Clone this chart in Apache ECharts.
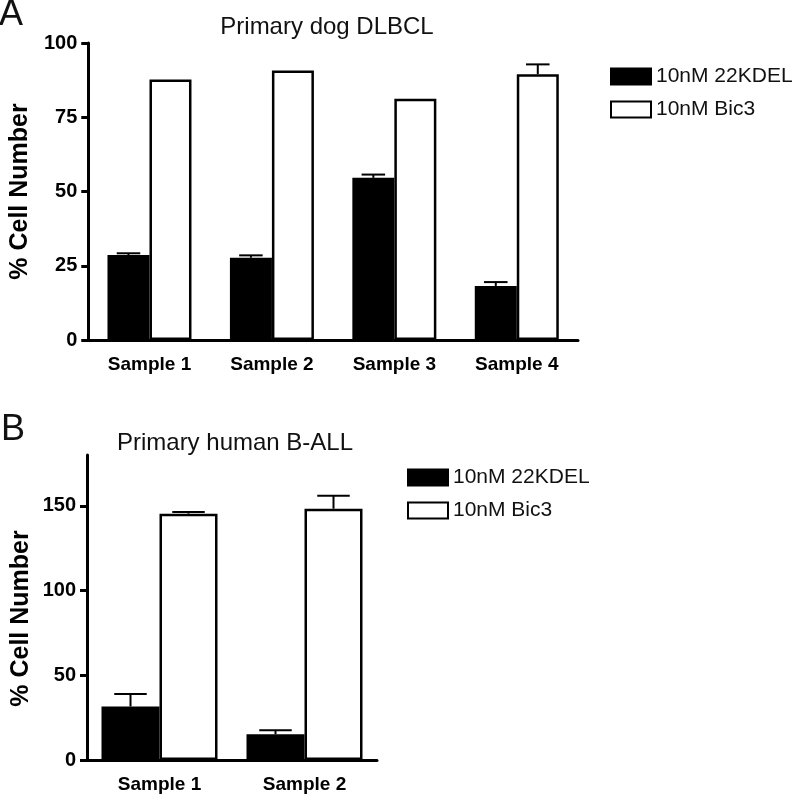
<!DOCTYPE html>
<html>
<head>
<meta charset="utf-8">
<script src="https://cdn.jsdelivr.net/npm/echarts@6/dist/echarts.min.js"></script>
<style>html,body{margin:0;padding:0;background:#fff}#c{width:800px;height:794px}</style>
</head>
<body>
<div id="c"></div>
<script>
// ---- data ----
const catsA = ['Sample 1', 'Sample 2', 'Sample 3', 'Sample 4'];
const kdelA = [28.6, 27.7, 54.6, 18.2];
const kdelAErr = [0.6, 0.8, 1.1, 1.3];
const bicA = [87.7, 90.7, 81.2, 89.5];
const bicAErr = [0, 0, 0, 3.3];

const catsB = ['Sample 1', 'Sample 2'];
const kdelB = [31.6, 15.2];
const kdelBErr = [7.3, 2.4];
const bicB = [145.4, 148.3];
const bicBErr = [1.0, 7.6];

const ticksA = [0, 25, 50, 75, 100];
const ticksB = [0, 50, 100, 150];

const nameKdel = '10nM 22KDEL';
const nameBic = '10nM Bic3';

// ---- styles ----
const FF = 'Liberation Sans, Arial, Helvetica, sans-serif';
const BW_A = 42, BW_B = 58;

function errData(means, errs) {
  return means.map((m, i) => [i, m, errs[i]]);
}
function errRender(sign, bw) {
  return function (params, api) {
    const e = api.value(2);
    if (!e) return null;
    const cat = api.value(0), v = api.value(1);
    const b = api.coord([cat, v]);
    const t = api.coord([cat, v + e]);
    const x = b[0] + sign * bw / 2;
    const h = bw * 0.28;
    return {
      type: 'group',
      children: [
        { type: 'line', shape: { x1: x, y1: b[1], x2: x, y2: t[1] }, style: { stroke: '#000', lineWidth: 2 } },
        { type: 'line', shape: { x1: x - h, y1: t[1], x2: x + h, y2: t[1] }, style: { stroke: '#000', lineWidth: 2 } }
      ]
    };
  };
}

function xAxisCfg(cats, gi) {
  return {
    type: 'category', gridIndex: gi, data: cats,
    axisLine: { lineStyle: { color: '#000', width: 3 } },
    axisTick: { alignWithLabel: true, length: 7, lineStyle: { color: '#000', width: 3 } },
    axisLabel: { color: '#000', fontFamily: FF, fontWeight: 'bold', fontSize: 19, margin: 15 },
    splitLine: { show: false }
  };
}
function yAxisCfg(gi, max, interval, ticks, namePad) {
  return {
    type: 'value', gridIndex: gi, min: 0, max: max, interval: interval,
    name: '% Cell Number', nameLocation: 'middle', nameGap: 53,
    nameTextStyle: { color: '#000', fontFamily: FF, fontWeight: 'bold', fontSize: 25, padding: namePad },
    axisLine: { show: true, lineStyle: { color: '#000', width: 3 } },
    axisTick: { show: true, length: 7, customValues: ticks, lineStyle: { color: '#000', width: 3 } },
    axisLabel: { color: '#000', fontFamily: FF, fontWeight: 'bold', fontSize: 20, margin: 11, customValues: ticks },
    splitLine: { show: false }
  };
}

const blackStyle = { color: '#000', borderColor: '#000', borderWidth: 2 };
const whiteStyle = { color: '#fff', borderColor: '#000', borderWidth: 2.5 };

function legendCfg(left, top) {
  return {
    orient: 'vertical', left: left, top: top, itemWidth: 40, itemHeight: 16, itemGap: 12,
    icon: 'rect', selectedMode: false,
    textStyle: { fontFamily: FF, fontSize: 21, color: '#111' },
    data: [nameKdel, nameBic]
  };
}

const option = {
  animation: false,
  backgroundColor: '#fff',
  grid: [
    { left: 88, top: 43, width: 490, height: 297 },
    { left: 87, top: 455, width: 290, height: 306 }
  ],
  xAxis: [xAxisCfg(catsA, 0), xAxisCfg(catsB, 1)],
  yAxis: [yAxisCfg(0, 100, 25, ticksA, [0, 0, 0, 0]), yAxisCfg(1, 180, 50, ticksB, [0, 22, 0, 0])],
  legend: [legendCfg(605, 61), legendCfg(402, 462)],
  graphic: [
    { type: 'text', style: { text: 'A', x: -1, y: 15, textAlign: 'left', textVerticalAlign: 'middle', font: '36px ' + FF, fill: '#111' } },
    { type: 'text', style: { text: 'Primary dog DLBCL', x: 327, y: 27, textAlign: 'center', textVerticalAlign: 'middle', font: '24px ' + FF, fill: '#111' } },
    { type: 'text', style: { text: 'B', x: 1, y: 430, textAlign: 'left', textVerticalAlign: 'middle', font: '36px ' + FF, fill: '#111' } },
    { type: 'text', style: { text: 'Primary human B-ALL', x: 235, y: 443, textAlign: 'center', textVerticalAlign: 'middle', font: '24px ' + FF, fill: '#111' } }
  ],
  series: [
    { name: nameKdel, type: 'bar', xAxisIndex: 0, yAxisIndex: 0, data: kdelA, barWidth: BW_A, barGap: '0%', itemStyle: blackStyle },
    { name: nameBic, type: 'bar', xAxisIndex: 0, yAxisIndex: 0, data: bicA, barWidth: BW_A, barGap: '0%', itemStyle: whiteStyle },
    { name: nameKdel, type: 'bar', xAxisIndex: 1, yAxisIndex: 1, data: kdelB, barWidth: BW_B, barGap: '0%', itemStyle: blackStyle },
    { name: nameBic, type: 'bar', xAxisIndex: 1, yAxisIndex: 1, data: bicB, barWidth: BW_B, barGap: '0%', itemStyle: whiteStyle },
    { type: 'custom', xAxisIndex: 0, yAxisIndex: 0, data: errData(kdelA, kdelAErr), renderItem: errRender(-1, BW_A), z: 5 },
    { type: 'custom', xAxisIndex: 0, yAxisIndex: 0, data: errData(bicA, bicAErr), renderItem: errRender(1, BW_A), z: 5 },
    { type: 'custom', xAxisIndex: 1, yAxisIndex: 1, data: errData(kdelB, kdelBErr), renderItem: errRender(-1, BW_B), z: 5 },
    { type: 'custom', xAxisIndex: 1, yAxisIndex: 1, data: errData(bicB, bicBErr), renderItem: errRender(1, BW_B), z: 5 }
  ]
};

const chart = echarts.init(document.getElementById('c'), null, { renderer: 'canvas' });
chart.setOption(option);
</script>
</body>
</html>
